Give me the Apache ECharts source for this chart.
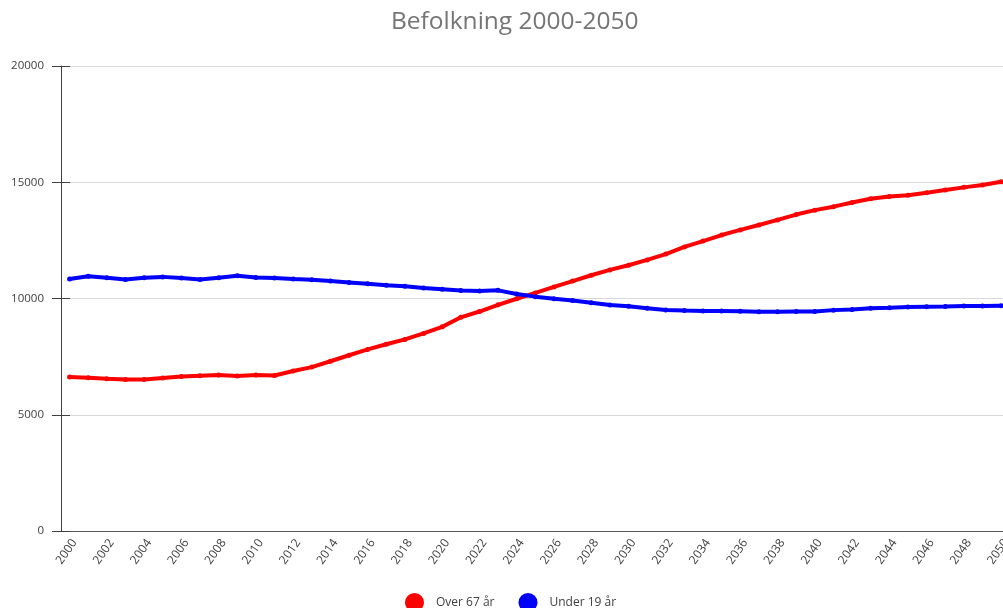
<!DOCTYPE html>
<html>
<head>
<meta charset="utf-8">
<script src="https://cdn.jsdelivr.net/npm/echarts@6/dist/echarts.min.js"></script>
<style>
html,body{margin:0;padding:0;background:#fff;}
#chart{width:1003px;height:608px;}
</style>
</head>
<body>
<div id="chart"></div>
<script>
const years = [];
for (let y = 2000; y <= 2050; y++) years.push(y);
const xTickLabels = [2000,2002,2004,2006,2008,2010,2012,2014,2016,2018,2020,2022,2024,2026,2028,2030,2032,2034,2036,2038,2040,2042,2044,2046,2048,2050];
const over67 = [6620,6590,6550,6520,6520,6580,6650,6680,6710,6670,6710,6690,6880,7050,7300,7560,7810,8030,8240,8500,8780,9190,9440,9730,9990,10240,10500,10750,11000,11230,11430,11660,11910,12220,12470,12730,12950,13160,13380,13610,13800,13950,14130,14290,14390,14440,14550,14670,14780,14880,15020];
const under19 = [10840,10960,10890,10820,10890,10930,10880,10820,10890,10980,10900,10880,10840,10810,10750,10690,10630,10570,10530,10450,10400,10340,10320,10350,10190,10080,9990,9910,9820,9720,9670,9580,9510,9480,9460,9460,9450,9430,9430,9440,9440,9500,9530,9580,9600,9630,9650,9660,9680,9680,9690];
const seriesNames = ['Over 67 år', 'Under 19 år'];

const font = 'Open Sans';
const chart = echarts.init(document.getElementById('chart'));
const pair = arr => arr.map((v, i) => [years[i], v]);
chart.setOption({
  animation: false,
  title: {
    text: 'Befolkning 2000-2050',
    left: 386, top: 5,
    textStyle: { fontFamily: font, fontSize: 24.5, fontWeight: 'normal', color: '#757575' }
  },
  legend: {
    left: 400, top: 588,
    icon: 'circle', itemWidth: 19, itemHeight: 19, itemGap: 24,
    textStyle: { fontFamily: font, fontSize: 12, color: '#404040', padding: [0,0,0,7] },
    data: seriesNames
  },
  grid: { left: 61, right: 0, top: 66, bottom: 77, containLabel: false, outerBoundsMode: 'none' },
  xAxis: {
    type: 'value', min: 1999.54, max: 2050.1,
    axisLine: { show: true, onZero: false, lineStyle: { color: '#595959', width: 1 } },
    axisTick: { show: false },
    splitLine: { show: false },
    axisLabel: {
      customValues: xTickLabels, rotate: 55, margin: 6, verticalAlign: 'top',
      fontFamily: font, fontSize: 12, color: '#404040',
      formatter: v => String(v)
    }
  },
  yAxis: [{
    type: 'value', min: 0, max: 20000, interval: 5000,
    axisLine: { show: true, lineStyle: { color: '#404040', width: 1 } },
    axisTick: { show: true, inside: false, length: 9, lineStyle: { color: '#404040' } },
    splitLine: { show: true, lineStyle: { color: '#d9d9d9', width: 1 } },
    axisLabel: { margin: 17, fontFamily: font, fontSize: 11.5, color: '#404040', formatter: v => String(v) }
  }, {
    type: 'value', min: 0, max: 20000, interval: 5000, position: 'left',
    axisLine: { show: false },
    axisTick: { show: true, inside: true, length: 9, lineStyle: { color: '#404040' } },
    splitLine: { show: false },
    axisLabel: { show: false }
  }],
  series: [{
    name: seriesNames[0], type: 'line', data: pair(over67),
    color: '#ff0000', symbol: 'circle', symbolSize: 5, showSymbol: true,
    lineStyle: { width: 4, color: '#ff0000' }, itemStyle: { color: '#ff0000' }, clip: false
  }, {
    name: seriesNames[1], type: 'line', data: pair(under19),
    color: '#0000ff', symbol: 'circle', symbolSize: 5, showSymbol: true,
    lineStyle: { width: 4, color: '#0000ff' }, itemStyle: { color: '#0000ff' }, clip: false
  }]
});
</script>
</body>
</html>
